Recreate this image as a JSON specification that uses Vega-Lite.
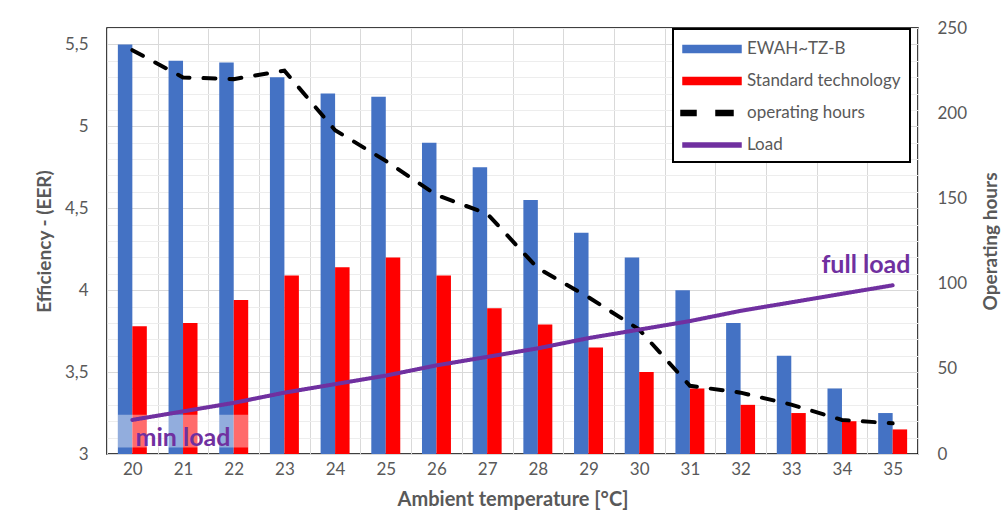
{
  "$schema": "https://vega.github.io/schema/vega-lite/v6.json",
  "width": 811,
  "height": 426,
  "autosize": {"type": "none"},
  "padding": {"left": 107, "top": 28, "right": 86, "bottom": 64},
  "background": "white",
  "config": {
    "view": {"stroke": "#000000", "strokeWidth": 1.5},
    "font": "Lato",
    "axis": {
      "labelFont": "Lato", "labelFontSize": 17, "labelColor": "#595959",
      "titleFont": "Lato", "titleFontSize": 19, "titleFontWeight": "bold", "titleColor": "#595959",
      "ticks": false, "domain": false, "labelOverlap": false
    },
    "legend": {"strokeColor": "#000000", "strokeWidth": 2, "fillColor": "white"}
  },
  "datasets": {
    "eer": [
      {"t": 20, "series": "EWAH~TZ-B", "v": 5.5}, {"t": 20, "series": "Standard technology", "v": 3.78},
      {"t": 21, "series": "EWAH~TZ-B", "v": 5.4}, {"t": 21, "series": "Standard technology", "v": 3.8},
      {"t": 22, "series": "EWAH~TZ-B", "v": 5.39}, {"t": 22, "series": "Standard technology", "v": 3.94},
      {"t": 23, "series": "EWAH~TZ-B", "v": 5.3}, {"t": 23, "series": "Standard technology", "v": 4.09},
      {"t": 24, "series": "EWAH~TZ-B", "v": 5.2}, {"t": 24, "series": "Standard technology", "v": 4.14},
      {"t": 25, "series": "EWAH~TZ-B", "v": 5.18}, {"t": 25, "series": "Standard technology", "v": 4.2},
      {"t": 26, "series": "EWAH~TZ-B", "v": 4.9}, {"t": 26, "series": "Standard technology", "v": 4.09},
      {"t": 27, "series": "EWAH~TZ-B", "v": 4.75}, {"t": 27, "series": "Standard technology", "v": 3.89},
      {"t": 28, "series": "EWAH~TZ-B", "v": 4.55}, {"t": 28, "series": "Standard technology", "v": 3.79},
      {"t": 29, "series": "EWAH~TZ-B", "v": 4.35}, {"t": 29, "series": "Standard technology", "v": 3.65},
      {"t": 30, "series": "EWAH~TZ-B", "v": 4.2}, {"t": 30, "series": "Standard technology", "v": 3.5},
      {"t": 31, "series": "EWAH~TZ-B", "v": 4.0}, {"t": 31, "series": "Standard technology", "v": 3.4},
      {"t": 32, "series": "EWAH~TZ-B", "v": 3.8}, {"t": 32, "series": "Standard technology", "v": 3.3},
      {"t": 33, "series": "EWAH~TZ-B", "v": 3.6}, {"t": 33, "series": "Standard technology", "v": 3.25},
      {"t": 34, "series": "EWAH~TZ-B", "v": 3.4}, {"t": 34, "series": "Standard technology", "v": 3.2},
      {"t": 35, "series": "EWAH~TZ-B", "v": 3.25}, {"t": 35, "series": "Standard technology", "v": 3.15}
    ],
    "hours": [
      {"t": 20, "series": "operating hours", "h": 237}, {"t": 20, "series": "Load", "h": 20},
      {"t": 21, "series": "operating hours", "h": 221}, {"t": 21, "series": "Load", "h": 25},
      {"t": 22, "series": "operating hours", "h": 220}, {"t": 22, "series": "Load", "h": 30},
      {"t": 23, "series": "operating hours", "h": 225}, {"t": 23, "series": "Load", "h": 36},
      {"t": 24, "series": "operating hours", "h": 190}, {"t": 24, "series": "Load", "h": 41},
      {"t": 25, "series": "operating hours", "h": 172}, {"t": 25, "series": "Load", "h": 46},
      {"t": 26, "series": "operating hours", "h": 152}, {"t": 26, "series": "Load", "h": 52},
      {"t": 27, "series": "operating hours", "h": 141}, {"t": 27, "series": "Load", "h": 57},
      {"t": 28, "series": "operating hours", "h": 109}, {"t": 28, "series": "Load", "h": 62},
      {"t": 29, "series": "operating hours", "h": 92}, {"t": 29, "series": "Load", "h": 68},
      {"t": 30, "series": "operating hours", "h": 73}, {"t": 30, "series": "Load", "h": 73},
      {"t": 31, "series": "operating hours", "h": 40}, {"t": 31, "series": "Load", "h": 78},
      {"t": 32, "series": "operating hours", "h": 36}, {"t": 32, "series": "Load", "h": 84},
      {"t": 33, "series": "operating hours", "h": 29}, {"t": 33, "series": "Load", "h": 89},
      {"t": 34, "series": "operating hours", "h": 20}, {"t": 34, "series": "Load", "h": 94},
      {"t": 35, "series": "operating hours", "h": 18}, {"t": 35, "series": "Load", "h": 99}
    ],
    "box": [{"t1": 20, "t2": 22, "y1": 3.04, "y2": 3.24}],
    "minlabel": [{"t": 21, "y": 3.05, "label": "min load"}],
    "fulllabel": [{"t": 35, "y": 4.105, "label": "full load"}]
  },
  "layer": [
    {
      "layer": [
        {
          "data": {"name": "eer"},
          "mark": {"type": "bar", "clip": true},
          "encoding": {
            "x": {
              "field": "t", "type": "ordinal",
              "scale": {"paddingInner": 0, "paddingOuter": 0},
              "axis": {"title": "Ambient temperature [°C]", "titleFontSize": 20, "labelAngle": 0, "grid": true, "tickBand": "extent", "gridColor": "#D9D9D9", "labelPadding": 7, "titlePadding": 12}
            },
            "xOffset": {"field": "series", "scale": {"domain": ["EWAH~TZ-B", "Standard technology"], "paddingOuter": 0.75, "paddingInner": 0}},
            "y": {
              "field": "v", "type": "quantitative",
              "scale": {"domain": [3, 5.6], "nice": false, "zero": false},
              "axis": {
                "title": "Efficiency - (EER)",
                "values": [3, 3.1, 3.2, 3.3, 3.4, 3.5, 3.6, 3.7, 3.8, 3.9, 4, 4.1, 4.2, 4.3, 4.4, 4.5, 4.6, 4.7, 4.8, 4.9, 5, 5.1, 5.2, 5.3, 5.4, 5.5, 5.6],
                "format": ".1~f",
                "labelOverlap": false,
                "labelExpr": "(abs(datum.value * 2 - round(datum.value * 2)) < 0.01 && datum.value < 5.55) ? replace(datum.label, '.', ',') : ''",
                "grid": true,
                "gridColor": {"condition": {"test": "abs(datum.value * 2 - round(datum.value * 2)) < 0.01", "value": "#D9D9D9"}, "value": "#EDEDED"},
                "labelPadding": 19, "titlePadding": 10
              }
            },
            "y2": {"datum": 3},
            "color": {
              "field": "series", "type": "nominal",
              "scale": {"domain": ["EWAH~TZ-B", "Standard technology", "operating hours", "Load"], "range": ["#4472C4", "#FF0000", "#000000", "#7030A0"]},
              "legend": {
                "title": null, "orient": "none", "legendX": 566, "legendY": 1,
                "padding": 9, "labelFont": "Lato", "labelFontSize": 17, "labelColor": "#595959", "labelLimit": 300,
                "symbolSize": 400, "rowPadding": 13, "labelOffset": 43,
                "encode": {
                  "symbols": {
                    "update": {
                      "shape": {"signal": "datum.value === 'operating hours' ? 'M-1.2,-0.25H0.3V0.25H-1.2Z M2.3,-0.25H4V0.25H2.3Z' : (datum.value === 'Load' ? 'M-1,-0.2H4.8V0.2H-1Z' : 'M-1,-0.35H4.8V0.35H-1Z')"},
                      "fill": {"scale": "color", "field": "value"},
                      "stroke": {"value": "transparent"},
                      "opacity": {"value": 1}
                    }
                  }
                }
              }
            }
          }
        },
        {
          "data": {"name": "box"},
          "mark": {"type": "rect", "color": "white", "opacity": 0.42},
          "encoding": {
            "x": {"field": "t1", "type": "ordinal", "bandPosition": 0.21},
            "x2": {"field": "t2", "bandPosition": 0.79},
            "y": {"field": "y1", "type": "quantitative",
              "axis": {
                "title": "Efficiency - (EER)",
                "values": [3, 3.1, 3.2, 3.3, 3.4, 3.5, 3.6, 3.7, 3.8, 3.9, 4, 4.1, 4.2, 4.3, 4.4, 4.5, 4.6, 4.7, 4.8, 4.9, 5, 5.1, 5.2, 5.3, 5.4, 5.5, 5.6],
                "format": ".1~f",
                "labelOverlap": false,
                "labelExpr": "(abs(datum.value * 2 - round(datum.value * 2)) < 0.01 && datum.value < 5.55) ? replace(datum.label, '.', ',') : ''",
                "grid": true,
                "gridColor": {"condition": {"test": "abs(datum.value * 2 - round(datum.value * 2)) < 0.01", "value": "#D9D9D9"}, "value": "#EDEDED"},
                "labelPadding": 19, "titlePadding": 10
              }},
            "y2": {"field": "y2"}
          }
        },
        {
          "data": {"name": "minlabel"},
          "mark": {"type": "text", "font": "Lato", "fontSize": 25, "fontWeight": "bold", "color": "#7030A0", "align": "center", "baseline": "alphabetic"},
          "encoding": {
            "x": {"field": "t", "type": "ordinal"},
            "y": {"field": "y", "type": "quantitative",
              "axis": {
                "title": "Efficiency - (EER)",
                "values": [3, 3.1, 3.2, 3.3, 3.4, 3.5, 3.6, 3.7, 3.8, 3.9, 4, 4.1, 4.2, 4.3, 4.4, 4.5, 4.6, 4.7, 4.8, 4.9, 5, 5.1, 5.2, 5.3, 5.4, 5.5, 5.6],
                "format": ".1~f",
                "labelOverlap": false,
                "labelExpr": "(abs(datum.value * 2 - round(datum.value * 2)) < 0.01 && datum.value < 5.55) ? replace(datum.label, '.', ',') : ''",
                "grid": true,
                "gridColor": {"condition": {"test": "abs(datum.value * 2 - round(datum.value * 2)) < 0.01", "value": "#D9D9D9"}, "value": "#EDEDED"},
                "labelPadding": 19, "titlePadding": 10
              }},
            "text": {"field": "label"}
          }
        },
        {
          "data": {"name": "fulllabel"},
          "mark": {"type": "text", "font": "Lato", "fontSize": 25, "fontWeight": "bold", "color": "#7030A0", "align": "right", "baseline": "alphabetic"},
          "encoding": {
            "x": {"field": "t", "type": "ordinal", "bandPosition": 0.85},
            "y": {"field": "y", "type": "quantitative",
              "axis": {
                "title": "Efficiency - (EER)",
                "values": [3, 3.1, 3.2, 3.3, 3.4, 3.5, 3.6, 3.7, 3.8, 3.9, 4, 4.1, 4.2, 4.3, 4.4, 4.5, 4.6, 4.7, 4.8, 4.9, 5, 5.1, 5.2, 5.3, 5.4, 5.5, 5.6],
                "format": ".1~f",
                "labelOverlap": false,
                "labelExpr": "(abs(datum.value * 2 - round(datum.value * 2)) < 0.01 && datum.value < 5.55) ? replace(datum.label, '.', ',') : ''",
                "grid": true,
                "gridColor": {"condition": {"test": "abs(datum.value * 2 - round(datum.value * 2)) < 0.01", "value": "#D9D9D9"}, "value": "#EDEDED"},
                "labelPadding": 19, "titlePadding": 10
              }},
            "text": {"field": "label"}
          }
        }
      ]
    },
    {
      "data": {"name": "hours"},
      "mark": {"type": "line", "strokeWidth": 4, "strokeCap": "round"},
      "encoding": {
        "x": {"field": "t", "type": "ordinal"},
        "y": {
          "field": "h", "type": "quantitative",
          "scale": {"domain": [0, 250], "nice": false},
          "axis": {"orient": "right", "title": "Operating hours", "values": [0, 50, 100, 150, 200, 250], "grid": false, "labelPadding": 19, "titlePadding": 34, "titleAngle": 270}
        },
        "color": {"field": "series", "type": "nominal"},
        "strokeDash": {"field": "series", "type": "nominal", "scale": {"domain": ["operating hours", "Load"], "range": [[12, 14], [1, 0]]}, "legend": null}
      }
    }
  ],
  "resolve": {"scale": {"y": "independent"}}
}
